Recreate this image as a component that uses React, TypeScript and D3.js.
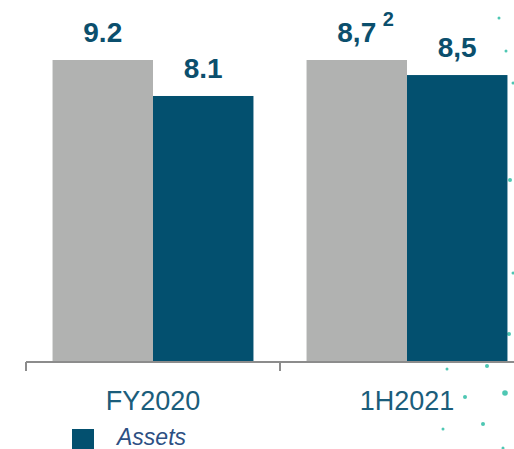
import React, { useRef, useEffect } from 'react';
import * as d3 from 'd3';

const W = 514;
const H = 449;

// chart data
const categories = ['FY2020', '1H2021'];
const greyValues = [9.2, 9.2]; // bar heights as plotted
const tealValues = [8.1, 8.74];
const greyLabels = ['9.2', '8,7'];
const tealLabels = ['8.1', '8,5'];
const greyNotes = ['', '2'];
const legendLabel = 'Assets';

// decorative dots on the right edge
const decoDots = [
  [499, 18, 1.5], [506, 51, 1.5], [513, 83, 1.5], [510, 180, 2], [513, 273, 1.5],
  [509, 334, 2], [447, 369, 1.5], [487, 366, 2], [465, 397, 2], [505, 393, 2.8],
  [443, 429, 1.5], [483, 424, 2], [503, 448, 1.5]
];

const GREY = '#b1b2b1';
const TEAL = '#03506f';
const LABEL = '#0b4f6d';
const FONT = '"Liberation Sans", Arial, sans-serif';

const margin = { top: 60, left: 26, right: -20, bottom: 88 };

const App = () => {
  const svgRef = useRef<SVGSVGElement>(null);

  useEffect(() => {
    const svg = d3.select(svgRef.current);
    svg.selectAll('*').remove();

    const baseY = H - margin.bottom;

    const x0 = d3.scaleBand()
      .domain(categories)
      .range([margin.left, W - margin.right])
      .paddingInner(0.209)
      .paddingOuter(0.1045);

    const x1 = d3.scaleBand()
      .domain(['grey', 'teal'])
      .range([0, x0.bandwidth()]);

    const y = d3.scaleLinear()
      .domain([0, d3.max(greyValues) as number])
      .range([baseY, margin.top]);

    // decoration
    svg.append('g')
      .selectAll('circle')
      .data(decoDots)
      .join('circle')
      .attr('cx', d => d[0])
      .attr('cy', d => d[1])
      .attr('r', d => d[2])
      .attr('fill', '#4ec7b3');

    const groups = svg.append('g')
      .selectAll('g')
      .data(categories)
      .join('g')
      .attr('transform', d => `translate(${x0(d)},0)`);

    groups.append('rect')
      .attr('x', x1('grey') as number)
      .attr('width', x1.bandwidth())
      .attr('y', (_, i) => y(greyValues[i]))
      .attr('height', (_, i) => baseY - y(greyValues[i]))
      .attr('fill', GREY);

    groups.append('rect')
      .attr('x', x1('teal') as number)
      .attr('width', x1.bandwidth())
      .attr('y', (_, i) => y(tealValues[i]))
      .attr('height', (_, i) => baseY - y(tealValues[i]))
      .attr('fill', TEAL);

    groups.append('text')
      .attr('x', (x1('grey') as number) + x1.bandwidth() / 2)
      .attr('y', (_, i) => y(greyValues[i]) - 18)
      .attr('text-anchor', 'middle')
      .attr('font-family', FONT)
      .attr('font-weight', 'bold')
      .attr('font-size', 28)
      .attr('fill', LABEL)
      .text((_, i) => greyLabels[i]);

    groups.filter((_, i) => greyNotes[i] !== '')
      .append('text')
      .attr('x', (x1('grey') as number) + x1.bandwidth() / 2 + 26)
      .attr('y', (_, i) => y(greyValues[i]) - 34)
      .attr('font-family', FONT)
      .attr('font-weight', 'bold')
      .attr('font-size', 20)
      .attr('fill', LABEL)
      .text(d => greyNotes[categories.indexOf(d)]);

    groups.append('text')
      .attr('x', (x1('teal') as number) + x1.bandwidth() / 2)
      .attr('y', (_, i) => y(tealValues[i]) - 18)
      .attr('text-anchor', 'middle')
      .attr('font-family', FONT)
      .attr('font-weight', 'bold')
      .attr('font-size', 28)
      .attr('fill', LABEL)
      .text((_, i) => tealLabels[i]);

    // x axis
    const axis = svg.append('g')
      .attr('transform', `translate(0,${baseY + 1})`)
      .call(d3.axisBottom(x0).tickSize(0).tickPadding(0));
    axis.select('.domain').remove();
    axis.selectAll('.tick text')
      .attr('y', 48)
      .attr('dy', 0)
      .attr('font-family', FONT)
      .attr('font-size', 27)
      .attr('fill', '#1b5d7b');

    const range = x0.range();
    const step = x0.step();
    axis.append('line')
      .attr('x1', range[0])
      .attr('x2', range[1])
      .attr('stroke', '#8c8c8c')
      .attr('stroke-width', 2);
    axis.selectAll('.sep')
      .data(d3.range(categories.length + 1))
      .join('line')
      .attr('class', 'sep')
      .attr('x1', i => range[0] + i * step)
      .attr('x2', i => range[0] + i * step)
      .attr('y1', 0)
      .attr('y2', 9)
      .attr('stroke', '#8c8c8c')
      .attr('stroke-width', 2);

    // legend
    const legend = svg.append('g').attr('transform', 'translate(72,429)');
    legend.append('rect')
      .attr('width', 22)
      .attr('height', 20)
      .attr('fill', TEAL);
    legend.append('text')
      .attr('x', 45)
      .attr('y', 16)
      .attr('font-family', FONT)
      .attr('font-style', 'italic')
      .attr('font-size', 23)
      .attr('fill', '#2d5083')
      .text(legendLabel);
  }, []);

  return (
    <svg
      ref={svgRef}
      width={W}
      height={H}
      style={{ position: 'absolute', left: 0, top: 0, background: 'white', display: 'block' }}
    />
  );
};

export default App;
